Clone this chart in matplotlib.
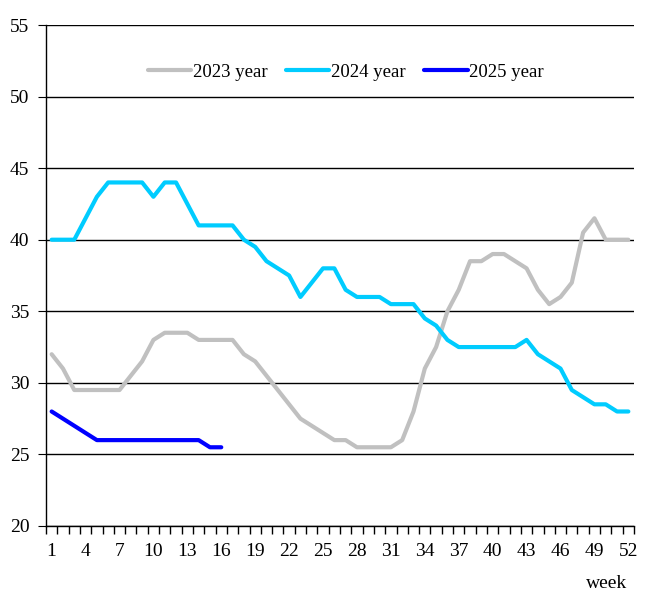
import numpy as np
import matplotlib
matplotlib.use("Agg")
import matplotlib.pyplot as plt

plt.rcParams['font.family'] = ['Liberation Serif', 'DejaVu Serif']

weeks = np.arange(1, 53)

y2023 = [32, 31, 29.5, 29.5, 29.5, 29.5, 29.5, 30.5, 31.5, 33,
         33.5, 33.5, 33.5, 33, 33, 33, 33, 32, 31.5, 30.5,
         29.5, 28.5, 27.5, 27, 26.5, 26, 26, 25.5, 25.5, 25.5,
         25.5, 26, 28, 31, 32.5, 35, 36.5, 38.5, 38.5, 39,
         39, 38.5, 38, 36.5, 35.5, 36, 37, 40.5, 41.5, 40,
         40, 40]
y2024 = [40, 40, 40, 41.5, 43, 44, 44, 44, 44, 43,
         44, 44, 42.5, 41, 41, 41, 41, 40, 39.5, 38.5,
         38, 37.5, 36, 37, 38, 38, 36.5, 36, 36, 36,
         35.5, 35.5, 35.5, 34.5, 34, 33, 32.5, 32.5, 32.5, 32.5,
         32.5, 32.5, 33, 32, 31.5, 31, 29.5, 29, 28.5, 28.5,
         28, 28]
y2025 = [28, 27.5, 27, 26.5, 26, 26, 26, 26, 26, 26,
         26, 26, 26, 26, 25.5, 25.5]

fig = plt.figure(figsize=(6.53, 6.12), dpi=100)
ax = fig.add_axes([46/653, 86/612, 588/653, 501/612])

ax.plot(weeks, y2023, color='#C0C0C0', lw=3, label='2023 year', solid_capstyle='round')
ax.plot(weeks, y2024, color='#00CCFF', lw=3, label='2024 year', solid_capstyle='round')
ax.plot(weeks[:len(y2025)], y2025, color='#0000FF', lw=3, label='2025 year', solid_capstyle='round')

ax.set_xlim(0.5, 52.5)
ax.set_ylim(20, 55)
ax.set_yticks(np.arange(20, 56, 5))
ax.yaxis.grid(True, color='black', lw=1)
ax.set_axisbelow(True)

ax.set_xticks(np.arange(1, 53, 3))
ax.set_xticks(np.arange(0.5, 53, 1), minor=True)
ax.tick_params(axis='x', which='major', length=0, pad=12, labelsize=14)
ax.tick_params(axis='x', which='minor', length=6, direction='out', width=1)
ax.tick_params(axis='y', length=6, direction='out', labelsize=14, pad=6)

for s in ['top', 'right']:
    ax.spines[s].set_visible(False)
ax.spines['left'].set_linewidth(1)
ax.spines['bottom'].set_linewidth(1)

ax.text(607/653, 29/612, 'week', transform=fig.transFigure, fontsize=14,
        ha='center', va='center')

ax.legend(loc='center', bbox_to_anchor=(0.51, 0.906), ncol=3, frameon=False,
          fontsize=13.5, handlelength=2.3, handletextpad=0.1, columnspacing=1.0)

fig.savefig('out.png', dpi=100)
